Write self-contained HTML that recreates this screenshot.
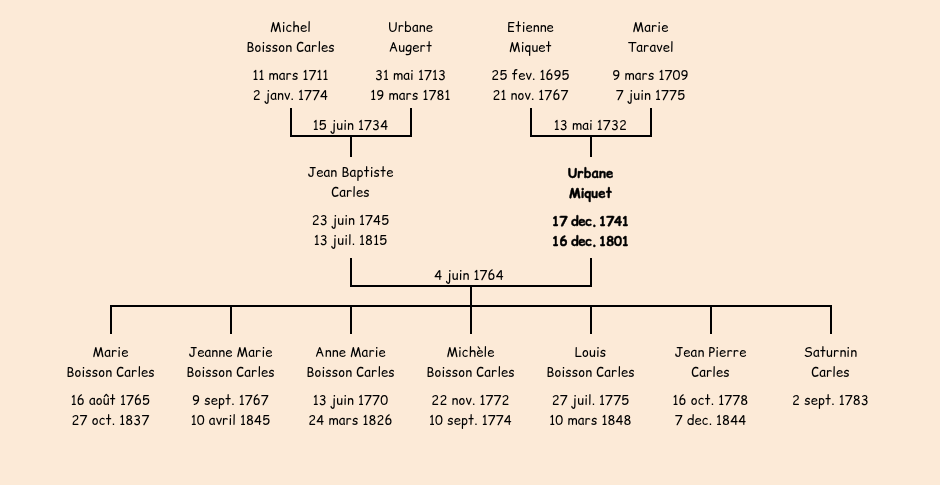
<!DOCTYPE html>
<html><head><meta charset="utf-8"><title>Arbre</title>
<style>
html,body{margin:0;padding:0;width:940px;height:485px;overflow:hidden;background:#FCEAD7;}
.t{position:absolute;width:200px;text-align:center;white-space:nowrap;font-family:"Comic Relief", "Comic Sans MS", "Liberation Sans", sans-serif;font-size:13px;line-height:20px;color:#000;letter-spacing:0.15px;}
.b{font-weight:bold;-webkit-text-stroke:0.35px #000;}
.bd{letter-spacing:-0.3px;}
.s1{word-spacing:-1.5px;}
.s2{word-spacing:-3.6px;}
.l{position:absolute;background:#000;}
</style></head><body>
<div class="t" style="left:190.5px;top:17px">Michel</div>
<div class="t" style="left:190.5px;top:37px">Boisson Carles</div>
<div class="t" style="left:190.5px;top:65px">11 mars 1711</div>
<div class="t" style="left:190.5px;top:85px">2 janv. 1774</div>
<div class="t" style="left:310.5px;top:17px">Urbane</div>
<div class="t" style="left:310.5px;top:37px">Augert</div>
<div class="t" style="left:310.5px;top:65px">31 mai 1713</div>
<div class="t" style="left:310.5px;top:85px">19 mars 1781</div>
<div class="t" style="left:430.5px;top:17px">Etienne</div>
<div class="t" style="left:430.5px;top:37px">Miquet</div>
<div class="t" style="left:430.5px;top:65px">25 fev. 1695</div>
<div class="t" style="left:430.5px;top:85px">21 nov. 1767</div>
<div class="t" style="left:550.5px;top:17px">Marie</div>
<div class="t" style="left:550.5px;top:37px">Taravel</div>
<div class="t" style="left:550.5px;top:65px">9 mars 1709</div>
<div class="t" style="left:550.5px;top:85px">7 juin 1775</div>
<div class="t" style="left:250.5px;top:162px">Jean Baptiste</div>
<div class="t" style="left:250.5px;top:182px">Carles</div>
<div class="t" style="left:250.5px;top:210px">23 juin 1745</div>
<div class="t" style="left:250.5px;top:230px">13 juil. 1815</div>
<div class="t b" style="left:490.5px;top:163px">Urbane</div>
<div class="t b" style="left:490.5px;top:183px">Miquet</div>
<div class="t b" style="left:490.5px;top:211px"><span class="bd">17<span class="s1"> </span>dec.<span class="s2"> </span>1741</span></div>
<div class="t b" style="left:490.5px;top:231px"><span class="bd">16<span class="s1"> </span>dec.<span class="s2"> </span>1801</span></div>
<div class="t" style="left:10.5px;top:342px">Marie</div>
<div class="t" style="left:10.5px;top:362px">Boisson Carles</div>
<div class="t" style="left:10.5px;top:390px">16 août 1765</div>
<div class="t" style="left:10.5px;top:410px">27 oct. 1837</div>
<div class="t" style="left:130.5px;top:342px">Jeanne Marie</div>
<div class="t" style="left:130.5px;top:362px">Boisson Carles</div>
<div class="t" style="left:130.5px;top:390px">9 sept. 1767</div>
<div class="t" style="left:130.5px;top:410px">10 avril 1845</div>
<div class="t" style="left:250.5px;top:342px">Anne Marie</div>
<div class="t" style="left:250.5px;top:362px">Boisson Carles</div>
<div class="t" style="left:250.5px;top:390px">13 juin 1770</div>
<div class="t" style="left:250.5px;top:410px">24 mars 1826</div>
<div class="t" style="left:370.5px;top:342px">Michèle</div>
<div class="t" style="left:370.5px;top:362px">Boisson Carles</div>
<div class="t" style="left:370.5px;top:390px">22 nov. 1772</div>
<div class="t" style="left:370.5px;top:410px">10 sept. 1774</div>
<div class="t" style="left:490.5px;top:342px">Louis</div>
<div class="t" style="left:490.5px;top:362px">Boisson Carles</div>
<div class="t" style="left:490.5px;top:390px">27 juil. 1775</div>
<div class="t" style="left:490.5px;top:410px">10 mars 1848</div>
<div class="t" style="left:610.5px;top:342px">Jean Pierre</div>
<div class="t" style="left:610.5px;top:362px">Carles</div>
<div class="t" style="left:610.5px;top:390px">16 oct. 1778</div>
<div class="t" style="left:610.5px;top:410px">7 dec. 1844</div>
<div class="t" style="left:730.5px;top:342px">Saturnin</div>
<div class="t" style="left:730.5px;top:362px">Carles</div>
<div class="t" style="left:730.5px;top:390px">2 sept. 1783</div>
<div class="t" style="left:250.5px;top:115px">15 juin 1734</div>
<div class="t" style="left:490.5px;top:115px">13 mai 1732</div>
<div class="t" style="left:369.0px;top:265px">4 juin 1764</div>
<div class="l" style="left:290px;top:108px;width:2px;height:29px"></div>
<div class="l" style="left:410px;top:108px;width:2px;height:29px"></div>
<div class="l" style="left:290px;top:135px;width:122px;height:2px"></div>
<div class="l" style="left:350px;top:137px;width:2px;height:20px"></div>
<div class="l" style="left:530px;top:108px;width:2px;height:29px"></div>
<div class="l" style="left:650px;top:108px;width:2px;height:29px"></div>
<div class="l" style="left:530px;top:135px;width:122px;height:2px"></div>
<div class="l" style="left:590px;top:137px;width:2px;height:20px"></div>
<div class="l" style="left:350px;top:258px;width:2px;height:29px"></div>
<div class="l" style="left:590px;top:258px;width:2px;height:29px"></div>
<div class="l" style="left:350px;top:285px;width:242px;height:2px"></div>
<div class="l" style="left:470px;top:287px;width:2px;height:18px"></div>
<div class="l" style="left:110px;top:305px;width:722px;height:2px"></div>
<div class="l" style="left:110px;top:307px;width:2px;height:27px"></div>
<div class="l" style="left:230px;top:307px;width:2px;height:27px"></div>
<div class="l" style="left:350px;top:307px;width:2px;height:27px"></div>
<div class="l" style="left:470px;top:307px;width:2px;height:27px"></div>
<div class="l" style="left:590px;top:307px;width:2px;height:27px"></div>
<div class="l" style="left:710px;top:307px;width:2px;height:27px"></div>
<div class="l" style="left:830px;top:307px;width:2px;height:27px"></div>
</body></html>
